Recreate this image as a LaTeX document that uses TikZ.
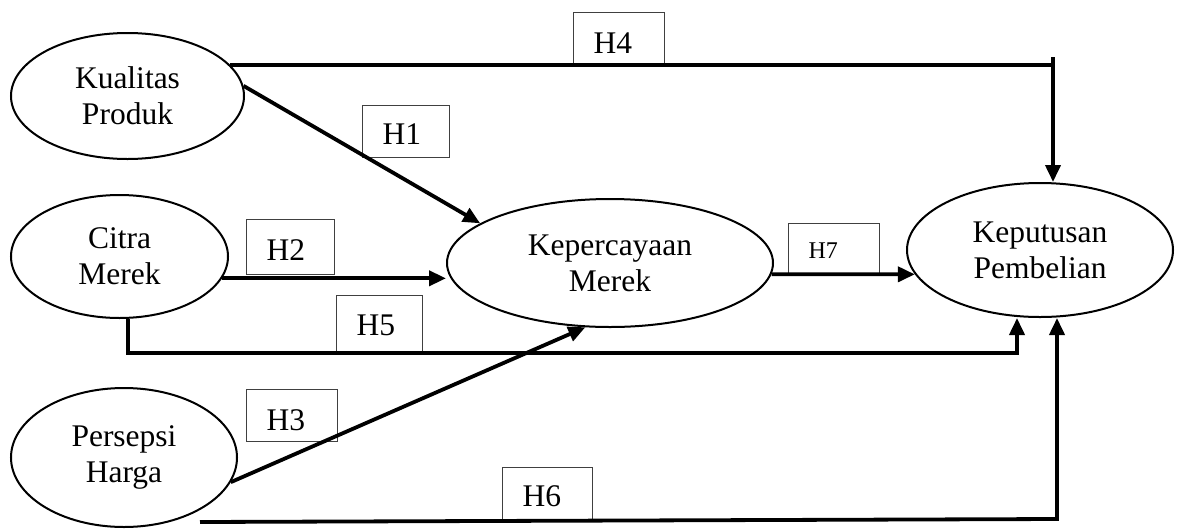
\documentclass[tikz,border=0pt]{standalone}
\usepackage{fontspec}
\setmainfont{Liberation Serif}
\usetikzlibrary{shapes.geometric,arrows.meta,calc}
\begin{document}
\begin{tikzpicture}[x=1pt,y=-1pt,
  var/.style={draw, ellipse, line width=2pt, inner sep=0pt, align=center, font=\fontsize{31.5}{36}\selectfont},
  hyp/.style={draw=black!75, line width=1.2pt, rectangle, anchor=north west, inner xsep=20pt, inner ysep=0pt, align=left, font=\fontsize{31.5}{36}\selectfont},
  conn/.style={line width=3.8pt},
  arr/.style={conn, -{Triangle[length=17pt,width=15pt]}}]
\useasboundingbox (0,0) rectangle (1181,528);

% variables
\node[var, minimum width=233pt, minimum height=126pt] (kq) at (127.5,96) {Kualitas\\Produk};
\node[var, minimum width=217pt, minimum height=123pt] (cm) at (119.5,256.5) {Citra\\Merek};
\node[var, minimum width=226pt, minimum height=139pt] (ps) at (124,457.5) {Persepsi\\Harga};
\node[var, minimum width=326pt, minimum height=128pt] (kk) at (610,263) {Kepercayaan\\Merek};
\node[var, minimum width=266pt, minimum height=134pt] (kp) at (1040,250) {Keputusan\\Pembelian};

% hypothesis labels
\node[hyp, text width=51pt, text height=40.5pt, text depth=11pt] (h4) at (573,12) {H4};
\node[hyp, text width=47pt, text height=38.5pt, text depth=13pt] (h1) at (362,105) {H1};
\node[hyp, text width=48pt, text height=41pt, text depth=14pt] (h2) at (246,219) {H2};
\node[hyp, text width=51pt, text height=41pt, text depth=11pt] (h3) at (246,389) {H3};
\node[hyp, text width=46pt, text height=40pt, text depth=18pt] (h5) at (336,295) {H5};
\node[hyp, text width=50pt, text height=39pt, text depth=15pt] (h6) at (502,467) {H6};
\node[hyp, font=\fontsize{24}{28}\selectfont, text width=51pt, text height=35pt, text depth=16pt] (h7) at (788,223) {H7};

% connectors
\coordinate (h4c) at (1053,65);
\coordinate (h5c) at (1017,353);
\coordinate (h6s) at (200,522);
\coordinate (h6c) at (1057,519);

\draw[conn] (kq.17) -- (kq.17 -| h4c);
\draw[arr] ([yshift=8pt]h4c) -- (h4c |- kp.north);
\draw[arr] (kq.5) -- (kk.163);
\draw[arr] (cm.-12) -- (cm.-12 -| kk.west);
\draw[arr] (ps.-13) -- (kk.-111);
\draw[arr] (cm.-82) |- (h5c) -- (h5c |- kp.south);
\draw[arr] (h6s) -- (h6c) -- (h6c |- kp.south);
\draw[arr] (kk.-4) -- (kp.-169);
\end{tikzpicture}
\end{document}
